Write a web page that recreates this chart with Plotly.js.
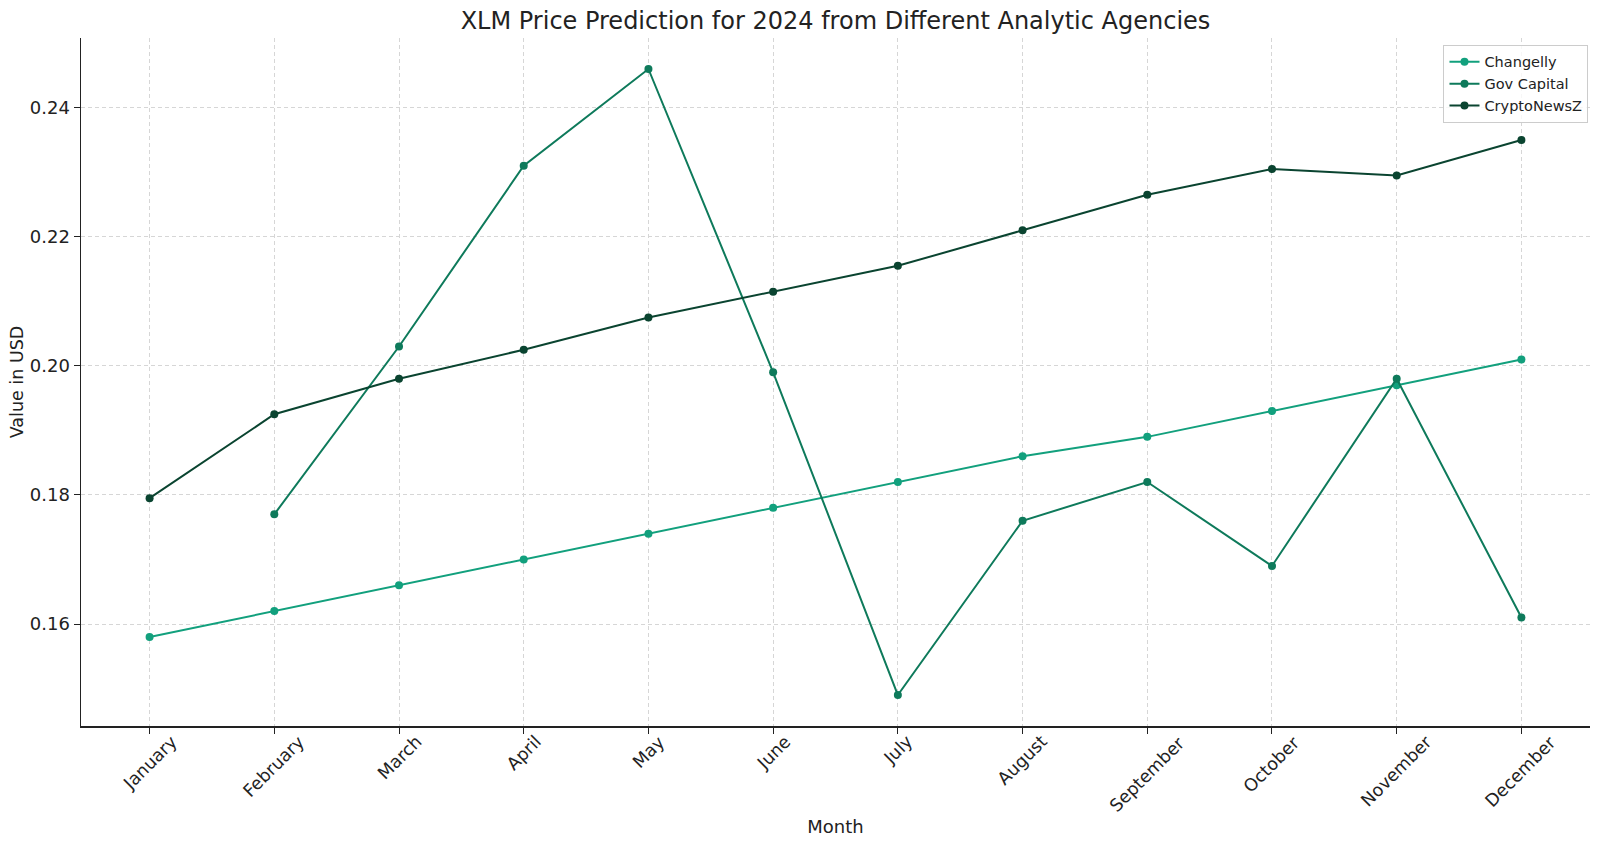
<!DOCTYPE html>
<html>
<head>
<meta charset="utf-8">
<script src="https://cdn.plot.ly/plotly-3.0.1.min.js"></script>
<style>html,body{margin:0;padding:0;background:#fff;}#chart{width:1600px;height:848px;}</style>
</head>
<body>
<div id="chart"></div>
<script>
const months = ["January","February","March","April","May","June","July","August","September","October","November","December"];
const changelly = [0.158,0.162,0.166,0.170,0.174,0.178,0.182,0.186,0.189,0.193,0.197,0.201];
const govCapital = [null,0.177,0.203,0.231,0.246,0.199,0.149,0.176,0.182,0.169,0.198,0.161];
const cryptoNewsZ = [0.1795,0.1925,0.198,0.2025,0.2075,0.2115,0.2155,0.221,0.2265,0.2305,0.2295,0.235];
const yTicks = [0.16,0.18,0.20,0.22,0.24];
const seriesNames = ["Changelly","Gov Capital","CryptoNewsZ"];
const colors = ["#12a07d","#0e7a5b","#0a4430"];
const font = "DejaVu Sans, sans-serif";

const x = months.map((m,i)=>i);
const traces = [changelly, govCapital, cryptoNewsZ].map((ys,k)=>({
  x: x, y: ys, name: seriesNames[k], type: "scatter", mode: "lines+markers",
  line: {color: colors[k], width: 2}, marker: {color: colors[k], size: 8},
  connectgaps: false
}));

const monthAnnotations = months.map((m,i)=>({
  text: m, x: i, xref: "x", y: 0, yref: "paper", yshift: -3,
  xanchor: "center", yanchor: "top", textangle: -45, showarrow: false,
  font: {family: font, size: 17.5, color: "#222"}
}));

const layout = {
  width: 1600, height: 848,
  paper_bgcolor: "#fff", plot_bgcolor: "#fff",
  margin: {l: 81, r: 10, t: 38, b: 122},
  title: {text: "XLM Price Prediction for 2024 from Different Analytic Agencies", font: {family: font, size: 24, color: "#222"}, x: 0.5, xref: "paper", xanchor: "center", y: 0.976, yanchor: "middle"},
  xaxis: {
    range: [-0.55, 11.55], tickmode: "array", tickvals: x, ticktext: months,
    showticklabels: false,
    ticks: "outside", ticklen: 6, tickcolor: "#222",
    showline: true, linecolor: "#222", linewidth: 1.5, mirror: false,
    showgrid: true, gridcolor: "#d6d6d6", griddash: "4px,3px", gridwidth: 1,
    zeroline: false,
    title: {text: "Month", font: {family: font, size: 18, color: "#222"}, standoff: 88}
  },
  yaxis: {
    range: [0.1442, 0.2508], tickvals: yTicks,
    ticktext: yTicks.map(v=>v.toFixed(2)),
    tickfont: {family: font, size: 18, color: "#222"},
    ticks: "outside", ticklen: 6, tickcolor: "#222",
    showline: true, linecolor: "#222", linewidth: 1.5,
    showgrid: true, gridcolor: "#d6d6d6", griddash: "4px,3px", gridwidth: 1,
    zeroline: false,
    title: {text: "Value in USD", font: {family: font, size: 17.5, color: "#222"}, standoff: 1}
  },
  annotations: monthAnnotations,
  legend: {
    x: 0.999, y: 0.99, xanchor: "right", yanchor: "top",
    bgcolor: "rgba(255,255,255,0.8)", bordercolor: "#ccc", borderwidth: 1,
    font: {family: font, size: 14.5, color: "#222"}, tracegroupgap: 0
  },
  showlegend: true
};
Plotly.newPlot("chart", traces, layout, {displayModeBar: false, staticPlot: true});
</script>
</body>
</html>
